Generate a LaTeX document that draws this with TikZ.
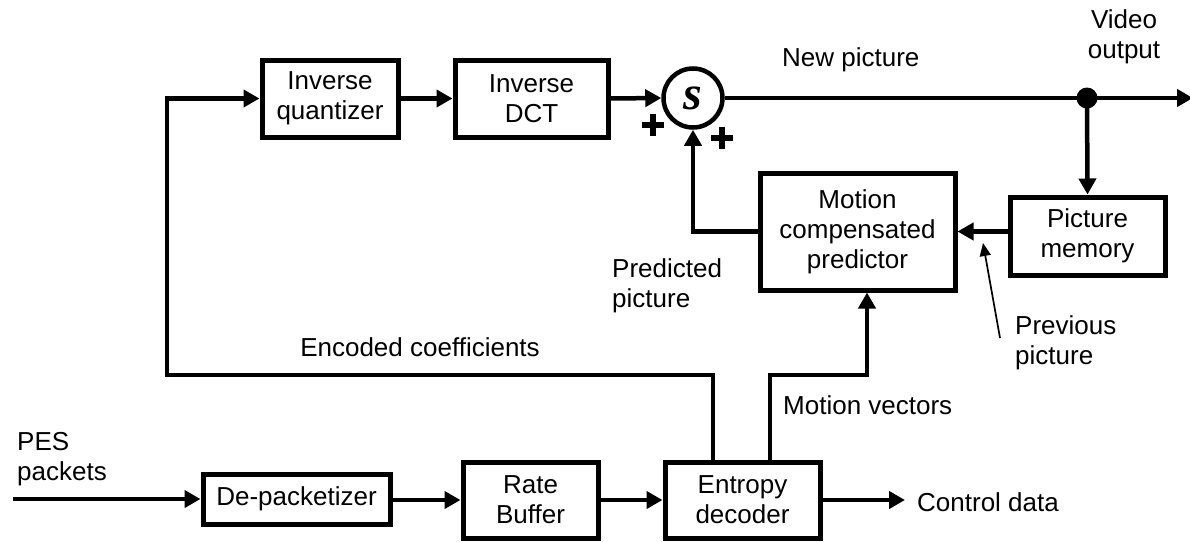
\documentclass[tikz,border=0pt]{standalone}
\usepackage{fontspec}
\setmainfont{Liberation Sans}
\newfontfamily\sumfont{Liberation Serif}
\usetikzlibrary{arrows.meta}

\tikzset{
  blockbox/.style={draw, line width=5pt, align=center, inner sep=0pt,
    font=\fontsize{26}{30}\selectfont},
  lbl/.style={align=left, inner sep=0pt, font=\fontsize{26}{30}\selectfont},
  conn/.style={line width=4.5pt},
  arr/.style={conn, -{Triangle[length=16pt,width=17pt]}},
  thinarr/.style={line width=1.7pt, -{Triangle[length=13pt,width=11pt]}},
  plussign/.style={line width=6pt},
}

\begin{document}
\begin{tikzpicture}[x=1pt,y=-1pt]
\useasboundingbox (0,0) rectangle (1190,541);

% ---- blocks ----
\node[blockbox, minimum width=136pt, minimum height=77pt] (iq) at (330,98.5) {Inverse\\quantizer};
\node[blockbox, minimum width=153pt, minimum height=77pt] (idct) at (531.5,98.5) {Inverse\\DCT};
\node[draw, circle, line width=4.5pt, minimum size=59pt, inner sep=0pt] (sum) at (693,98)
  {\sumfont\bfseries\itshape\fontsize{48}{48}\selectfont s};
\node[blockbox, minimum width=195pt, minimum height=117pt] (mcp) at (857.5,231.5) {Motion\\compensated\\predictor};
\node[blockbox, minimum width=155pt, minimum height=78pt] (pm) at (1087.5,236) {Picture\\memory};
\node[blockbox, minimum width=187pt, minimum height=50pt] (dp) at (296.5,499) {De-packetizer};
\node[blockbox, minimum width=135pt, minimum height=76pt] (rb) at (530.5,500) {Rate\\Buffer};
\node[blockbox, minimum width=155pt, minimum height=76pt] (ent) at (742.5,500) {Entropy\\decoder};

% ---- junction and free ends ----
\coordinate (dotc) at (1087,98);
\fill (dotc) circle (10.5pt);
\coordinate (vout) at (1193,98);
\coordinate (pesin) at (13,499);
\coordinate (ctrl) at (905,500);
\coordinate (fbr) at (713,375);
\coordinate (fbl) at (167,375);
\coordinate (mvl) at (770,375);
\coordinate (mvr) at (867,375);

% ---- forward path ----
\draw[arr] (iq.east) -- (idct.west);
\draw[arr] (idct.east) -- (sum.west);
\draw[arr] (sum.east) -- (vout);
\draw[arr] (dotc) -- (pm.north);
\draw[arr] (pm.west |- mcp.east) -- (mcp.east);
\draw[arr] (mcp.west) -| (sum.south);

% ---- input chain ----
\draw[arr] (pesin) -- (dp.west);
\draw[arr] (dp.east |- rb.west) -- (rb.west);
\draw[arr] (rb.east) -- (ent.west);
\draw[arr] (ent.east) -- (ctrl);

% ---- coefficient feedback and motion vectors ----
\draw[arr] (fbr |- ent.north) -- (fbr) -- (fbl) |- (iq.west);
\draw[arr] (mvl |- ent.north) -- (mvl) -- (mvr) -- (mvr |- mcp.south);

% ---- plus signs at the adder ----
\draw[plussign] (641.5,125) -- (663.5,125) (652.5,114) -- (652.5,136);
\draw[plussign] (710.5,137.5) -- (732.5,137.5) (721.5,126.5) -- (721.5,148.5);

% ---- previous picture pointer ----
\coordinate (pptail) at (1000,338);
\coordinate (pptip) at (983,243);
\draw[thinarr] (pptail) -- (pptip);

% ---- labels ----
\node[lbl, anchor=west] (newpic) at (782,60) {New picture};
\node[lbl, align=center] (vidout) at (1124,37) {Video\\output};
\node[lbl, anchor=west] (predpic) at (612,286) {Predicted\\picture};
\node[lbl, anchor=west] (prevpic) at (1015,343) {Previous\\picture};
\node[lbl] (enccoef) at (420,347) {Encoded coefficients};
\node[lbl, anchor=west] (motvec) at (783,405) {Motion vectors};
\node[lbl, anchor=west] (ctrldata) at (917,502) {Control data};
\node[lbl, anchor=west] (pes) at (17,459) {PES\\packets};
\end{tikzpicture}
\end{document}
